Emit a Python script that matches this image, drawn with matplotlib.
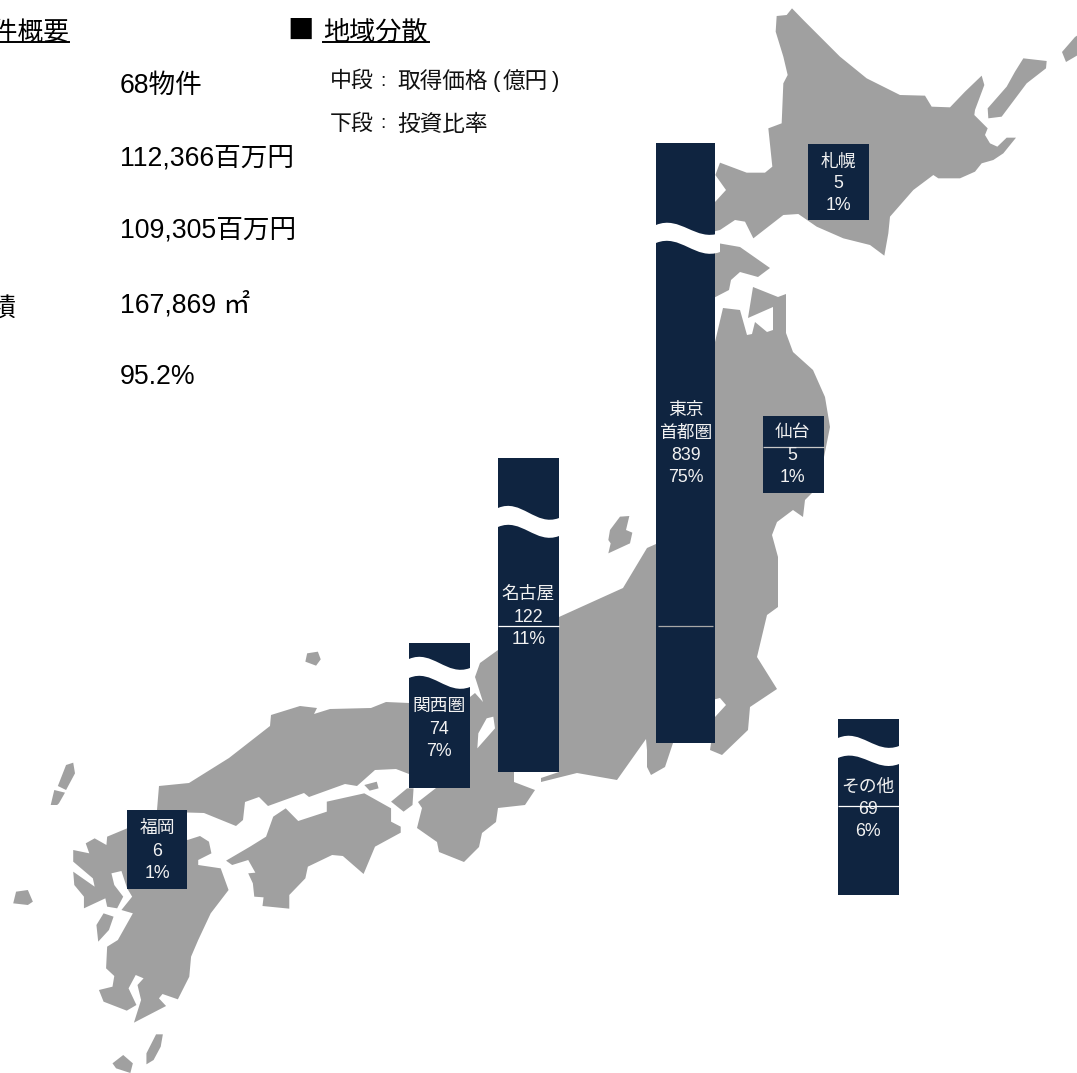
import matplotlib
matplotlib.use("Agg")
import matplotlib.pyplot as plt
from matplotlib.patches import Polygon, PathPatch
from matplotlib.path import Path

FONT = ['Liberation Sans', 'Noto Sans CJK JP', 'DejaVu Sans']
plt.rcParams['font.family'] = FONT

# ---------- data ----------
regions = [['札幌'], ['仙台'], ['東京', '首都圏'], ['名古屋'], ['関西圏'], ['その他'], ['福岡']]
prices = [5, 5, 839, 122, 74, 69, 6]
shares = ['1%', '1%', '75%', '11%', '7%', '6%', '1%']
summary_values = ['68物件', '112,366百万円', '109,305百万円', '167,869 ㎡', '95.2%']

# ---------- layout (picture pixels) ----------
bar_left = [808, 763, 656, 498, 409, 838, 127]
bar_right = [869, 824, 715, 559, 470, 899, 187]
bar_top = [144, 416, 143, 458, 643, 719, 810]
bar_bottom = [220, 493, 743, 772, 788, 895, 889]
label_y = [[162, 184, 206], [433, 456, 478], [411, 433, 456, 478],
           [594, 617, 639], [706, 729, 751], [787, 809, 831], [828, 851, 873]]
label_x = [838, 792.5, 686, 528.5, 439, 868, 157]
# bar index, upper edge left/right, lower edge left/right, extra width
breaks = [(2, 225, 233, 243, 252, 5), (3, 508, 518, 527, 536, 0),
          (4, 659, 668, 678, 687, 0), (5, 738, 746, 758, 764, 0)]
rules = [(763, 824, 446.5, '#c8c8c8'), (658, 713, 626, '#a8a8a8'),
         (498, 559, 626, 'white'), (838, 899, 806, 'white')]
NAVY = '#0f2440'
GRAY = '#a0a0a0'

def z1(p): return [(640 + x / 3, y / 3) for x, y in p]
def z3(p): return [(x / 2.8, 620 + y / 3) for x, y in p]
def z2(p): return [(400 + x / 3, 340 + y / 3) for x, y in p]

hokkaido = z1([(410,48),(440,45),(456,25),(490,60),(540,110),(600,170),(680,235),(780,285),(855,287),
    (875,320),(930,322),(975,275),(1025,227),(1033,255),(1005,330),(1003,345),(1043,385),(1035,405),
    (1050,430),(1072,440),(1100,413),(1128,413),(1090,460),(1060,480),(1025,490),(1005,515),(960,535),
    (895,535),(880,525),(820,570),(750,650),(745,700),(733,767),(690,735),(610,715),(530,680),(475,642),
    (430,645),(340,715),(315,665),(285,660),(240,690),(200,700),(200,620),(226,605),(258,570),(226,525),
    (240,488),(320,518),(375,518),(397,500),(385,385),(425,370),(430,250),(443,225),(430,170),(407,95)])
kunashiri = z1([(1150,175),(1220,183),(1218,205),(1160,250),(1085,350),(1045,355),(1043,325),(1100,260),(1125,215)])
etorofu = [(1062,52),(1075,37),(1078,35),(1078,55),(1066,62)]
tsugaru = [(700,240),(740,247),(770,268),(758,277),(740,272),(731,280),(729,290),(700,305)]
honshu = [(700,345),(715,342),(723,308),(740,310),(747,335),(752,334),(755,322),(767,332),(773,330),(773,307),
    (748,318),(753,287),(778,297),(786,294),(786,333),(793,352),(813,370),(825,397),(830,427),(824,457),
    (815,490),(805,500),(803,517),(793,510),(777,522),(772,535),(778,557),(778,607),(767,615),(757,657),
    (777,689),(750,707),(748,730),(722,755),(710,750),(715,717),(726,705),(720,698),(712,700),(700,742),
    (673,743),(665,767),(651,775),(647,767),(647,750),(646,739),(617,780),(577,773),(541,782),(541,778),
    (559,772),(514,772),(514,782),(535,790),(525,805),(498,808),(496,822),(482,833),(479,847),(464,862),
    (439,852),(437,842),(417,828),(422,808),(418,802),(436,788),(425,770),(409,774),(396,769),(375,770),
    (357,786),(345,784),(309,797),(304,793),(268,806),(259,797),(245,802),(243,820),(236,826),(204,813),
    (170,812),(157,810),(159,786),(189,783),(229,758),(270,726),(271,715),(300,706),(317,708),(314,714),
    (330,709),(371,708),(386,702),(409,703),(470,697),(475,693),(483,702),(476,680),(475,677),(480,663),
    (498,650),(559,617),(570,612),(623,588),(647,548),(656,544),(690,400)]
biwa = z2([(260,1135),(280,1130),(285,1165),(232,1225),(235,1180)])
sado = z2([(660,530),(688,528),(678,570),(697,578),(690,610),(625,640),(632,610),(625,600),(630,570)])
oki = z3([(860,100),(890,95),(898,118),(885,137),(855,125)])
tsushima1 = z3([(185,435),(205,428),(210,460),(185,510),(162,498)])
tsushima2 = z3([(152,510),(182,518),(165,550),(160,555),(142,555)])
goto = z3([(45,815),(78,810),(92,845),(78,855),(37,850)])
amakusa = z3([(290,880),(318,890),(305,930),(275,965),(270,915)])
kyushu = z3([(300,650),(298,675),(265,655),(240,670),(250,700),(205,690),(205,725),(260,775),(265,800),
    (205,755),(208,795),(235,830),(235,865),(295,835),(300,860),(328,865),(345,830),(320,795),(312,760),
    (340,753),(356,805),(370,830),(340,870),(372,880),(330,960),(300,980),(297,1045),(320,1068),(315,1100),
    (277,1110),(290,1145),(355,1172),(382,1155),(360,1105),(380,1065),(402,1075),(385,1095),(395,1140),
    (375,1208),(465,1158),(445,1135),(455,1122),(498,1138),(530,1070),(535,1010),(555,960),(590,880),
    (640,810),(618,745),(555,735),(555,720),(592,700),(585,665),(560,648),(525,660),(450,600),(356,625)])
shikoku = z3([(800,565),(835,603),(915,575),(915,545),(1020,520),(1095,565),(1095,605),(1122,620),(1122,638),
    (1050,680),(1018,762),(960,708),(930,705),(862,740),(855,775),(810,825),(810,866),(735,858),(738,832),
    (712,830),(708,790),(695,760),(715,758),(695,720),(650,735),(633,722),(700,680),(745,650),(765,590)])
awaji = z3([(1095,545),(1130,575),(1155,555),(1158,505),(1140,505)])
shodo = z3([(1020,495),(1055,485),(1060,505),(1035,512)])
yaku = z3([(345,1305),(372,1330),(365,1359),(325,1345),(315,1330)])
tane = z3([(437,1243),(456,1243),(450,1280),(430,1320),(410,1333),(410,1300)])
land = [hokkaido, kunashiri, etorofu, tsugaru, honshu, sado, oki, tsushima1, tsushima2, goto,
        amakusa, kyushu, shikoku, awaji, shodo, yaku, tane]

# ---------- figure ----------
fig = plt.figure(figsize=(10.77, 10.73), dpi=100)
ax = fig.add_axes([0, 0, 1, 1])
ax.set_xlim(0, 1077)
ax.set_ylim(1073, 0)
ax.axis('off')

for poly in land:
    ax.add_patch(Polygon(poly, closed=True, fc=GRAY, ec='none', zorder=1))
ax.add_patch(Polygon(biwa, closed=True, fc='white', ec='none', zorder=2))

for l, r, t, b in zip(bar_left, bar_right, bar_top, bar_bottom):
    ax.bar((l + r) / 2, b - t, width=r - l, bottom=t, color=NAVY, lw=0, zorder=3)

def wave(x0, x1, y0, y1):
    w = x1 - x0
    return [(x0, y0), (x0 + .38 * w, y0 - 10), (x0 + .62 * w, y1 + 9), (x1, y1)]

for i, ua, ub, la, lb, extra in breaks:
    x0, x1 = bar_left[i], bar_right[i] + extra
    up = wave(x0, x1, ua, ub)
    lo = wave(x0, x1, la, lb)[::-1]
    verts = up + [lo[0]] + lo[1:] + [up[0]]
    codes = [Path.MOVETO] + [Path.CURVE4] * 3 + [Path.LINETO] + [Path.CURVE4] * 3 + [Path.CLOSEPOLY]
    ax.add_patch(PathPatch(Path(verts, codes), fc='white', ec='none', zorder=4))

for x0, x1, y, c in rules:
    ax.plot([x0, x1], [y, y], color=c, lw=0.9, zorder=5, solid_capstyle='butt')

for name, price, share, ys, x in zip(regions, prices, shares, label_y, label_x):
    lines = name + [str(price), share]
    for line, y in zip(lines, ys):
        ax.text(x, y, line, color='#f2f2f2', fontsize=12.8, ha='center', va='center', zorder=6)

# ---------- headings ----------
ax.text(69, 33, '物件概要', fontsize=18.5, ha='right', va='center', color='black')
ax.plot([0, 69], [41.5, 41.5], color='black', lw=1.4)
ax.text(301, 31, '■', fontsize=19, ha='center', va='center', color='black',
        family=['Noto Sans CJK JP'])
ax.text(323, 33, '地域分散', fontsize=18.8, ha='left', va='center', color='black')
ax.plot([323, 429], [41.5, 41.5], color='black', lw=1.4)
for head, body, y in [('中段', '取得価格', 81), ('下段', '投資比率', 124)]:
    ax.text(330, y, head, fontsize=15.8, ha='left', va='center', color='#111111')
    ax.text(380, y, ':', fontsize=14, ha='left', va='center', color='#111111')
    ax.text(397, y, body, fontsize=16.3, ha='left', va='center', color='#111111')
ax.text(493, 81, '(', fontsize=16, ha='left', va='center', color='#111111')
ax.text(503, 81, '億円', fontsize=16.3, ha='left', va='center', color='#111111')
ax.text(552, 81, ')', fontsize=16, ha='left', va='center', color='#111111')
for txt, y in zip(summary_values, [86, 159, 231, 305, 377]):
    ax.text(120, y, txt, fontsize=19.2, ha='left', va='center', color='black')
ax.text(16, 309, '賃貸面積', fontsize=18.5, ha='right', va='center', color='black')

fig.savefig('out.png', dpi=100, facecolor='white')
